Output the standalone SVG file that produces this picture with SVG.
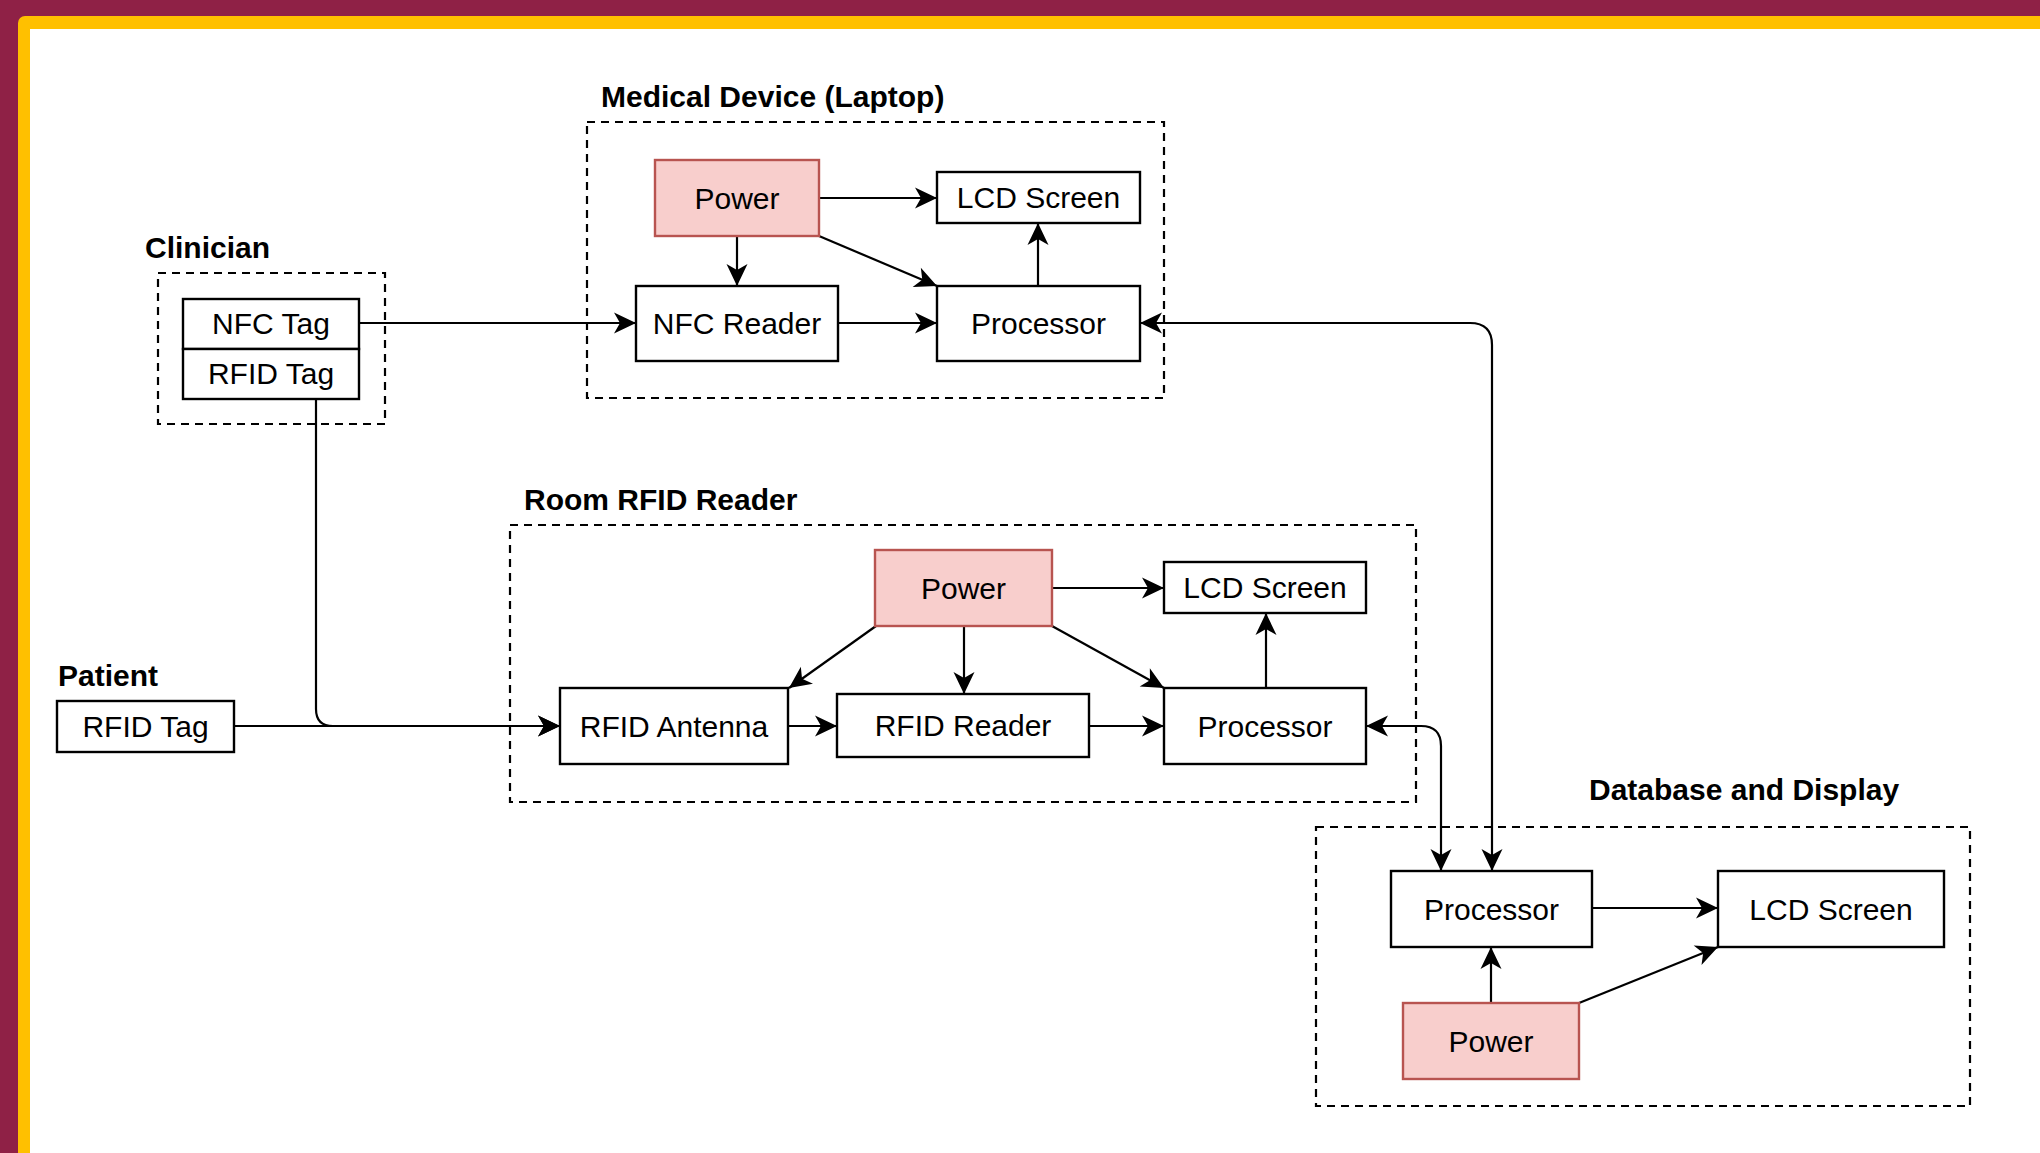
<svg xmlns="http://www.w3.org/2000/svg" width="2040" height="1153" viewBox="0 0 2040 1153">
<defs>
<style>
.node{fill:#fff;stroke:#000;stroke-width:2.4}
.pwr{fill:#f8cecc;stroke:#b85450;stroke-width:2.4}
.grp{fill:none;stroke:#000;stroke-width:2.2;stroke-dasharray:8 6}
.t{font-family:"Liberation Sans",Arial,Helvetica,sans-serif;font-size:30px;fill:#000;text-anchor:middle}
.lbl{font-family:"Liberation Sans",Arial,Helvetica,sans-serif;font-size:30px;font-weight:bold;fill:#000}
.e{fill:none;stroke:#000;stroke-width:2.2;marker-end:url(#arr)}
.b{marker-start:url(#arr)}
</style>
<marker id="arr" markerUnits="userSpaceOnUse" viewBox="-24 -12 26 24" refX="0" refY="0" markerWidth="26" markerHeight="24" orient="auto-start-reverse">
<path d="M0,0 L-22,-10.5 L-16,0 L-22,10.5 Z" fill="#000"/>
</marker>
</defs>
<rect x="0" y="0" width="2040" height="1153" fill="#8f2146"/>
<rect x="18" y="16" width="2100" height="1200" rx="7" fill="#ffc000"/>
<rect x="30" y="29" width="2100" height="1200" fill="#fff"/>

<g id="group-clinician">
<rect class="grp" x="158" y="273" width="227" height="151"/>
<text class="lbl" x="145" y="258">Clinician</text>
</g>
<g id="group-medical">
<rect class="grp" x="587" y="122" width="577" height="276"/>
<text class="lbl" x="601" y="107">Medical Device (Laptop)</text>
</g>
<g id="group-room">
<rect class="grp" x="510" y="525" width="906" height="277"/>
<text class="lbl" x="524" y="510">Room RFID Reader</text>
</g>
<g id="group-patient">
<text class="lbl" x="58" y="686">Patient</text>
</g>
<g id="group-db">
<rect class="grp" x="1316" y="827" width="654" height="279"/>
<text class="lbl" x="1589" y="800">Database and Display</text>
</g>

<g id="connectors">
<path class="e" d="M359,323 H636"/>
<path class="e" d="M316,399 V709 Q316,726 333,726 H560"/>
<path class="e" d="M234,726 H560"/>
<path class="e" d="M819,198 H937"/>
<path class="e" d="M737,236 V286"/>
<path class="e" d="M819,236 L937,286"/>
<path class="e" d="M838,323 H937"/>
<path class="e" d="M1038,286 V223"/>
<path class="e b" d="M1492,871 V345 Q1492,323 1470,323 H1140"/>
<path class="e" d="M1052,588 H1164"/>
<path class="e" d="M876,626 L789,688"/>
<path class="e" d="M964,626 V694"/>
<path class="e" d="M1052,626 L1164,688"/>
<path class="e" d="M788,726 H837"/>
<path class="e" d="M1089,726 H1164"/>
<path class="e" d="M1266,688 V613"/>
<path class="e b" d="M1366,726 H1421 Q1441,726 1441,746 V871"/>
<path class="e" d="M1592,908 H1718"/>
<path class="e" d="M1491,1003 V947"/>
<path class="e" d="M1579,1003 L1718,947"/>
</g>

<g id="clin-nfc-tag"><rect class="node" x="183" y="299" width="176" height="50"/><text class="t" x="271" y="334">NFC Tag</text></g>
<g id="clin-rfid-tag"><rect class="node" x="183" y="349" width="176" height="50"/><text class="t" x="271" y="384">RFID Tag</text></g>

<g id="md-power"><rect class="pwr" x="655" y="160" width="164" height="76"/><text class="t" x="737" y="209">Power</text></g>
<g id="md-lcd"><rect class="node" x="937" y="172" width="203" height="51"/><text class="t" x="1038.5" y="208">LCD Screen</text></g>
<g id="md-nfc-reader"><rect class="node" x="636" y="286" width="202" height="75"/><text class="t" x="737" y="334">NFC Reader</text></g>
<g id="md-processor"><rect class="node" x="937" y="286" width="203" height="75"/><text class="t" x="1038.5" y="334">Processor</text></g>

<g id="pt-rfid-tag"><rect class="node" x="57" y="701" width="177" height="51"/><text class="t" x="145.5" y="737">RFID Tag</text></g>

<g id="rr-power"><rect class="pwr" x="875" y="550" width="177" height="76"/><text class="t" x="963.5" y="599">Power</text></g>
<g id="rr-lcd"><rect class="node" x="1164" y="562" width="202" height="51"/><text class="t" x="1265" y="598">LCD Screen</text></g>
<g id="rr-antenna"><rect class="node" x="560" y="688" width="228" height="76"/><text class="t" x="674" y="737">RFID Antenna</text></g>
<g id="rr-reader"><rect class="node" x="837" y="694" width="252" height="63"/><text class="t" x="963" y="736">RFID Reader</text></g>
<g id="rr-processor"><rect class="node" x="1164" y="688" width="202" height="76"/><text class="t" x="1265" y="737">Processor</text></g>

<g id="db-processor"><rect class="node" x="1391" y="871" width="201" height="76"/><text class="t" x="1491.5" y="920">Processor</text></g>
<g id="db-lcd"><rect class="node" x="1718" y="871" width="226" height="76"/><text class="t" x="1831" y="920">LCD Screen</text></g>
<g id="db-power"><rect class="pwr" x="1403" y="1003" width="176" height="76"/><text class="t" x="1491" y="1052">Power</text></g>
</svg>
